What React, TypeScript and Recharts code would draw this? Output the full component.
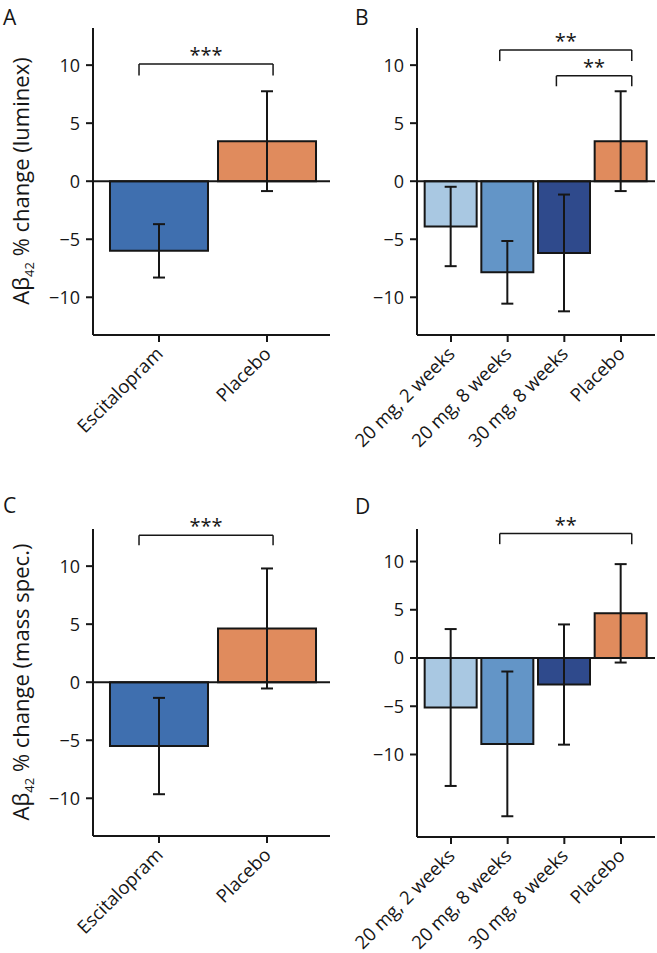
import { BarChart, Bar, XAxis, YAxis, ErrorBar, ReferenceLine, Cell } from "recharts";

const FONT = "'Open Sans', sans-serif";
const INK = "#161616";

// categories
const PAIR_GROUPS = ["Escitalopram", "Placebo"];
const DOSE_GROUPS = ["20 mg, 2 weeks", "20 mg, 8 weeks", "30 mg, 8 weeks", "Placebo"];
const PAIR_COLORS = ["#3f6faf", "#e08b5d"];
const DOSE_COLORS = ["#a9c8e2", "#6395c7", "#2f4a8c", "#e08b5d"];

// % change, mean and error (luminex)
const LUMINEX_PAIR = [-6.0, 3.45];
const LUMINEX_PAIR_ERR = [2.3, 4.3];
const LUMINEX_DOSE = [-3.9, -7.85, -6.18, 3.45];
const LUMINEX_DOSE_ERR = [3.42, 2.7, 5.03, 4.3];

// % change, mean and error (mass spec.)
const MASS_PAIR = [-5.5, 4.63];
const MASS_PAIR_ERR = [4.15, 5.17];
const MASS_DOSE = [-5.13, -8.9, -2.75, 4.63];
const MASS_DOSE_ERR = [8.13, 7.5, 6.23, 5.1];

const Y_TICKS = [-10, -5, 0, 5, 10];

// significance brackets (x in category index units)
const BRACKETS_A = [{ from: -0.185, to: 1.056, y: 10.1, drop: 1.0, stars: "***" }];
const BRACKETS_B = [
  { from: 0.86, to: 3.19, y: 11.3, drop: 0.95, stars: "**" },
  { from: 1.86, to: 3.19, y: 9.08, drop: 0.9, stars: "**" },
];
const BRACKETS_C = [{ from: -0.185, to: 1.056, y: 12.67, drop: 0.87, stars: "***" }];
const BRACKETS_D = [{ from: 0.86, to: 3.19, y: 12.9, drop: 1.1, stars: "**" }];

type Bracket = { from: number; to: number; y: number; drop: number; stars: string };

const fmtY = (v: number) => (v < 0 ? `\u2212${-v}` : `${v}`);

function SlantTick({ x, y, payload, labels }: any) {
  const tx = x + 5;
  const ty = y + 11;
  return (
    <text
      x={tx}
      y={ty}
      transform={`rotate(-45, ${tx}, ${ty})`}
      textAnchor="end"
      fontSize={18.5}
      fill={INK}
      fontFamily={FONT}
    >
      {labels[payload.value]}
    </text>
  );
}

interface PanelProps {
  left: number;
  top: number;
  width: number;
  height: number;
  margin: { top: number; right: number; left: number; bottom: number };
  labels: string[];
  values: number[];
  errors: number[];
  colors: string[];
  yDomain: [number, number];
  xDomain: [number, number];
  barSize: number;
  brackets: Bracket[];
}

function Panel(p: PanelProps) {
  const data = p.values.map((v, i) => ({ idx: i, value: v, err: p.errors[i] }));
  const line = { stroke: INK, strokeWidth: 2 };
  return (
    <div style={{ position: "absolute", left: p.left, top: p.top }}>
      <BarChart width={p.width} height={p.height} data={data} margin={p.margin}>
        <XAxis
          type="number"
          dataKey="idx"
          domain={p.xDomain}
          ticks={p.labels.map((_, i) => i)}
          allowDataOverflow
          interval={0}
          height={100}
          tickSize={7}
          tickMargin={2}
          axisLine={line}
          tickLine={line}
          tick={<SlantTick labels={p.labels} />}
        />
        <YAxis
          type="number"
          domain={p.yDomain}
          ticks={Y_TICKS}
          allowDataOverflow
          width={60}
          tickSize={7}
          tickMargin={6}
          axisLine={line}
          tickLine={line}
          tickFormatter={fmtY}
          tick={{ fontSize: 18, fill: INK, fontFamily: FONT }}
        />
        <Bar
          dataKey="value"
          barSize={p.barSize}
          stroke={INK}
          strokeWidth={2}
          isAnimationActive={false}
        >
          {data.map((_, i) => (
            <Cell key={i} fill={p.colors[i]} />
          ))}
          <ErrorBar dataKey="err" direction="y" width={6} stroke={INK} strokeWidth={2} />
        </Bar>
        <ReferenceLine y={0} stroke={INK} strokeWidth={2} />
        {p.brackets.map((b, i) => [
          <ReferenceLine
            key={`h${i}`}
            segment={[
              { x: b.from, y: b.y },
              { x: b.to, y: b.y },
            ]}
            stroke={INK}
            strokeWidth={1.5}
            label={{ value: b.stars, position: "top", offset: 2, fontSize: 20, fill: INK, fontFamily: FONT }}
          />,
          <ReferenceLine
            key={`l${i}`}
            segment={[
              { x: b.from, y: b.y },
              { x: b.from, y: b.y - b.drop },
            ]}
            stroke={INK}
            strokeWidth={1.5}
          />,
          <ReferenceLine
            key={`r${i}`}
            segment={[
              { x: b.to, y: b.y },
              { x: b.to, y: b.y - b.drop },
            ]}
            stroke={INK}
            strokeWidth={1.5}
          />,
        ])}
      </BarChart>
    </div>
  );
}

function YTitle({ x, y, method }: { x: number; y: number; method: string }) {
  return (
    <text transform={`translate(${x},${y}) rotate(-90)`} textAnchor="middle" fontSize={22} fill={INK} fontFamily={FONT}>
      {"A\u03b2"}
      <tspan dy={5} fontSize={13}>42</tspan>
      <tspan dy={-5}>{` % change (${method})`}</tspan>
    </text>
  );
}

export default function App() {
  const pairX: [number, number] = [-0.611, 1.583];
  const doseX: [number, number] = [-0.6, 3.6];
  return (
    <div
      style={{
        position: "absolute",
        left: 0,
        top: 0,
        width: 657,
        height: 953,
        overflow: "hidden",
        background: "#fff",
        fontFamily: FONT,
      }}
    >
      <Panel
        left={0}
        top={0}
        width={330}
        height={470}
        margin={{ top: 28, right: 0, left: 33, bottom: 35 }}
        labels={PAIR_GROUPS}
        values={LUMINEX_PAIR}
        errors={LUMINEX_PAIR_ERR}
        colors={PAIR_COLORS}
        yDomain={[-13.25, 13.2]}
        xDomain={pairX}
        barSize={98}
        brackets={BRACKETS_A}
      />
      <Panel
        left={330}
        top={0}
        width={327}
        height={470}
        margin={{ top: 28, right: 2, left: 27, bottom: 35 }}
        labels={DOSE_GROUPS}
        values={LUMINEX_DOSE}
        errors={LUMINEX_DOSE_ERR}
        colors={DOSE_COLORS}
        yDomain={[-13.25, 13.2]}
        xDomain={doseX}
        barSize={52}
        brackets={BRACKETS_B}
      />
      <Panel
        left={0}
        top={501}
        width={330}
        height={452}
        margin={{ top: 28, right: 0, left: 33, bottom: 17 }}
        labels={PAIR_GROUPS}
        values={MASS_PAIR}
        errors={MASS_PAIR_ERR}
        colors={PAIR_COLORS}
        yDomain={[-13.25, 13.2]}
        xDomain={pairX}
        barSize={98}
        brackets={BRACKETS_C}
      />
      <Panel
        left={330}
        top={501}
        width={327}
        height={452}
        margin={{ top: 28, right: 2, left: 27, bottom: 16 }}
        labels={DOSE_GROUPS}
        values={MASS_DOSE}
        errors={MASS_DOSE_ERR}
        colors={DOSE_COLORS}
        yDomain={[-18.55, 13.37]}
        xDomain={doseX}
        barSize={52}
        brackets={BRACKETS_D}
      />
      <svg
        width={657}
        height={953}
        style={{ position: "absolute", left: 0, top: 0, pointerEvents: "none" }}
      >
        <text x={3} y={25} fontSize={21} fill={INK} fontFamily={FONT}>A</text>
        <text x={355} y={25} fontSize={21} fill={INK} fontFamily={FONT}>B</text>
        <text x={3} y={513} fontSize={21} fill={INK} fontFamily={FONT}>C</text>
        <text x={355} y={514} fontSize={21} fill={INK} fontFamily={FONT}>D</text>
        <YTitle x={29} y={181} method="luminex" />
        <YTitle x={29} y={682} method="mass spec." />
      </svg>
    </div>
  );
}
